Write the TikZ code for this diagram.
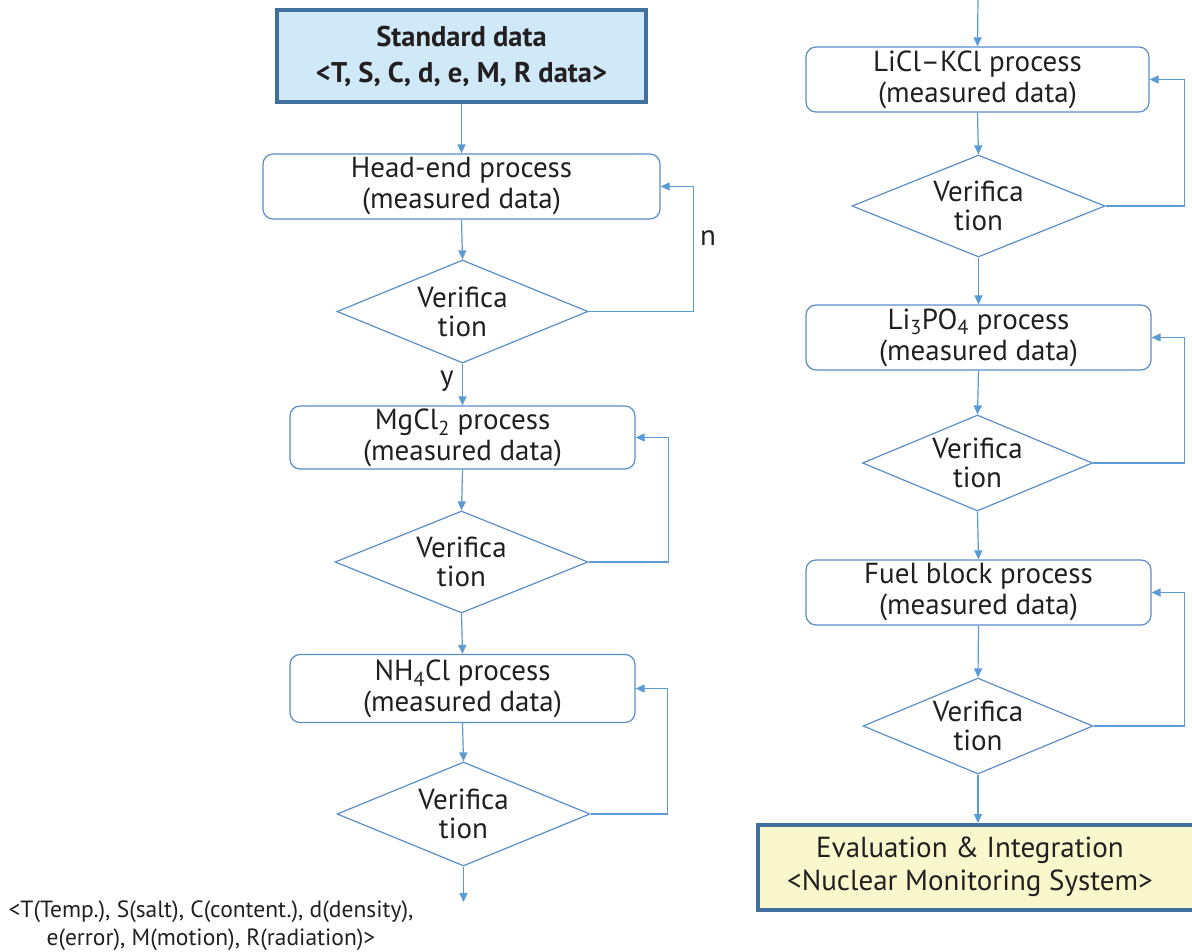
\documentclass[tikz,border=0pt]{standalone}
\usepackage{fontspec}
\setmainfont{PT Sans}
\usetikzlibrary{shapes.geometric,arrows.meta,calc}
\definecolor{lineblue}{HTML}{5B9BD5}
\definecolor{boxblue}{HTML}{5B8DC8}
\definecolor{thickblue}{HTML}{41709F}
\definecolor{topfill}{HTML}{CFE9F8}
\definecolor{evalfill}{HTML}{FAF7CD}
\definecolor{txt}{HTML}{231F20}
\tikzset{
  proc/.style={draw=boxblue, line width=1.2pt, rounded corners=10pt, align=center,
    inner sep=0pt, text=txt, font=\fontsize{29}{31}\selectfont},
  dec/.style={draw=boxblue, line width=1.2pt, shape=diamond, shape aspect=2.4, align=center,
    inner sep=-12pt, text=txt, font=\fontsize{29}{29}\selectfont},
  bigbox/.style={draw=thickblue, line width=4pt, align=center, inner sep=0pt, text=txt},
  arr/.style={draw=lineblue, line width=1.2pt, -{Triangle[length=9pt,width=8pt]}},
  lbl/.style={text=txt, font=\fontsize{29}{31}\selectfont}
}
\begin{document}
\begin{tikzpicture}[x=1pt,y=-1pt]
\useasboundingbox (0,0) rectangle (1192,952);
% top box
\node[bigbox, fill=topfill, minimum width=369pt, minimum height=92pt,
  font=\bfseries\fontsize{28.5}{36}\selectfont] (std) at (461.5,56.5)
  {Standard data\\ <T, S, C, d, e, M, R data>};
% left column
\node[proc, minimum width=397pt, minimum height=65pt] (head) at (461.5,186.5)
  {Head-end process\\ (measured data)};
\node[dec, minimum width=251pt, minimum height=103pt] (d1) at (462.5,311.5)
  {Verifica\\ tion};
\node[proc, minimum width=345pt, minimum height=63pt] (mg) at (462.5,437.5)
  {MgCl\textsubscript{2} process\\ (measured data)};
\node[dec, minimum width=253pt, minimum height=102pt] (d2) at (461.5,562)
  {Verifica\\ tion};
\node[proc, minimum width=345pt, minimum height=68pt] (nh) at (462.5,688.5)
  {NH\textsubscript{4}Cl process\\ (measured data)};
\node[dec, minimum width=253pt, minimum height=104pt] (d3) at (463.5,814)
  {Verifica\\ tion};
\coordinate (lend) at (463.5,902);
% right column
\coordinate (rtop) at (978,-2);
\node[proc, minimum width=343pt, minimum height=65pt] (licl) at (977.5,79.5)
  {LiCl–KCl process\\ (measured data)};
\node[dec, minimum width=253pt, minimum height=102pt] (dr1) at (978.5,206)
  {Verifica\\ tion};
\node[proc, minimum width=345pt, minimum height=65pt] (li3) at (978.5,337.5)
  {Li\textsubscript{3}PO\textsubscript{4} process\\ (measured data)};
\node[dec, minimum width=230pt, minimum height=96pt] (dr2) at (977.5,463)
  {Verifica\\ tion};
\node[proc, minimum width=345pt, minimum height=65pt] (fuel) at (978.5,592.5)
  {Fuel block process\\ (measured data)};
\node[dec, minimum width=230pt, minimum height=96pt] (dr3) at (978,726)
  {Verifica\\ tion};
\node[bigbox, fill=evalfill, minimum width=444pt, minimum height=85pt,
  font=\fontsize{29}{33}\selectfont] (eval) at (980,867.5)
  {\hspace*{-20pt}\begin{tabular}{@{}c@{}}Evaluation \& Integration\\ <Nuclear Monitoring System>\end{tabular}};
% labels
\node[lbl] (nl) at (708,238) {n};
\node[lbl] (yl) at (447,381) {y};
\node[text=txt, align=center, font=\fontsize{23.5}{28}\selectfont] (note) at (211,926)
  {<T(Temp.), S(salt), C(content.), d(density),\\ e(error), M(motion), R(radiation)>};
% connectors left
\draw[arr] (std.south) -- (head.north);
\draw[arr] (head.south) -- (d1.north);
\draw[arr] (d1.south) -- (mg.north);
\draw[arr] (mg.south) -- (d2.north);
\draw[arr] (d2.south) -- (nh.north);
\draw[arr] (nh.south) -- (d3.north);
\draw[arr] (d3.south) -- (lend);
\draw[arr] (d1.east) -| ([xshift=33pt]head.east) -- (head.east);
\draw[arr] (d2.east) -| ([xshift=33pt]mg.east) -- (mg.east);
\draw[arr] (d3.east) -| ([xshift=32pt]nh.east) -- (nh.east);
% connectors right
\draw[arr] (rtop) -- (licl.north);
\draw[arr] (licl.south) -- (dr1.north);
\draw[arr] (dr1.south) -- (li3.north);
\draw[arr] (li3.south) -- (dr2.north);
\draw[arr] (dr2.south) -- (fuel.north);
\draw[arr] (fuel.south) -- (dr3.north);
\draw[arr] (dr3.south) -- (eval.north -| dr3.south);
\draw[arr] (dr1.east) -| ([xshift=35pt]licl.east) -- (licl.east);
\draw[arr] (dr2.east) -| ([xshift=33pt]li3.east) -- (li3.east);
\draw[arr] (dr3.east) -| ([xshift=33pt]fuel.east) -- (fuel.east);
\end{tikzpicture}
\end{document}
